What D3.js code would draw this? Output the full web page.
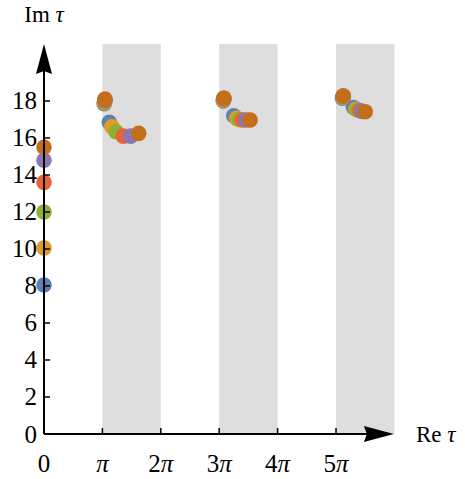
<!DOCTYPE html>
<html>
<head>
<meta charset="utf-8">
<script src="https://cdn.jsdelivr.net/npm/d3@7"></script>
<style>
  html, body { margin: 0; padding: 0; background: #fff; }
  svg { display: block; }
  text { font-family: "Liberation Serif", "Times New Roman", serif; fill: #000; }
</style>
</head>
<body>
<svg id="chart" width="465" height="479"></svg>
<script>
// ---- data (x in units of π, y = Im τ) ----
const seriesNames = ["s1", "s2", "s3", "s4", "s5", "s6"];
const seriesColors = ["#5E81B5", "#E19C24", "#8FB032", "#EB6235", "#8778B3", "#C56E1A"];
const s1 = [[0, 8.05], [1.03, 17.85], [1.118, 16.85], [3.07, 18.0], [3.25, 17.2], [5.11, 18.15], [5.30, 17.65]];
const s2 = [[0, 10.05], [1.035, 17.9], [1.164, 16.6], [3.07, 18.05], [3.30, 17.06], [5.115, 18.2], [5.34, 17.55]];
const s3 = [[0, 12.0], [1.04, 17.95], [1.233, 16.34], [3.075, 18.1], [3.345, 17.0], [5.12, 18.22], [5.37, 17.51]];
const s4 = [[0, 13.6], [1.04, 18.0], [1.358, 16.1], [3.08, 18.12], [3.40, 16.97], [5.12, 18.25], [5.41, 17.48]];
const s5 = [[0, 14.8], [1.045, 18.05], [1.485, 16.1], [3.08, 18.15], [3.46, 16.97], [5.125, 18.27], [5.44, 17.44]];
const s6 = [[0, 15.5], [1.045, 18.1], [1.622, 16.25], [3.08, 18.15], [3.53, 16.97], [5.125, 18.27], [5.50, 17.42]];
const seriesData = [s1, s2, s3, s4, s5, s6];
const bands = [[1, 2], [3, 4], [5, 6]];
const xTickValues = [0, 1, 2, 3, 4, 5];
const xTickLabels = ["0", "π", "2π", "3π", "4π", "5π"];
const yTickValues = [0, 2, 4, 6, 8, 10, 12, 14, 16, 18];
const xMax = 6, yMax = 21.08;

// ---- layout ----
const svg = d3.select("#chart");
const x = d3.scaleLinear().domain([0, xMax]).range([44, 394.4]);
const y = d3.scaleLinear().domain([0, yMax]).range([434, 44]);

// shaded bands
svg.append("g").selectAll("rect").data(bands).join("rect")
  .attr("x", d => x(d[0]))
  .attr("width", d => x(d[1]) - x(d[0]))
  .attr("y", y(yMax))
  .attr("height", y(0) - y(yMax))
  .attr("fill", "#dedede");

// points (drawn beneath the axes)
seriesData.forEach((data, i) => {
  svg.append("g").attr("class", seriesNames[i])
    .selectAll("circle").data(data).join("circle")
    .attr("cx", d => x(d[0]))
    .attr("cy", d => y(d[1]))
    .attr("r", 7.8)
    .attr("fill", seriesColors[i]);
});

// axes lines
const axis = svg.append("g").attr("stroke", "#000").attr("stroke-width", 2);
axis.append("line").attr("x1", x(0)).attr("x2", x(xMax) - 10).attr("y1", y(0)).attr("y2", y(0));
axis.append("line").attr("x1", x(0)).attr("x2", x(0)).attr("y1", y(0)).attr("y2", y(yMax) + 10);

// arrowheads
const L = 30, W = 8, notch = 3;
const xt = x(xMax) - 0.5, yt = y(0);
svg.append("path")
  .attr("d", `M${xt},${yt} L${xt - L},${yt - W} L${xt - L + notch},${yt} L${xt - L},${yt + W} Z`)
  .attr("fill", "#000");
const ax = x(0), ay = y(yMax);
svg.append("path")
  .attr("d", `M${ax},${ay} L${ax - W},${ay + L} L${ax},${ay + L - notch} L${ax + W},${ay + L} Z`)
  .attr("fill", "#000");

// ticks
svg.append("g").selectAll("line").data(xTickValues.slice(1)).join("line")
  .attr("x1", d => x(d)).attr("x2", d => x(d))
  .attr("y1", y(0)).attr("y2", y(0) - 6)
  .attr("stroke", "#000").attr("stroke-width", 1.5);
svg.append("g").selectAll("line").data(yTickValues.slice(1)).join("line")
  .attr("x1", x(0)).attr("x2", x(0) + 6)
  .attr("y1", d => y(d)).attr("y2", d => y(d))
  .attr("stroke", "#000").attr("stroke-width", 1.5);

// tick labels
svg.append("g").selectAll("text").data(xTickValues).join("text")
  .attr("x", d => x(d))
  .attr("y", 472)
  .attr("text-anchor", "middle")
  .attr("font-size", 25)
  .each(function(d, i) {
    const lab = xTickLabels[i];
    const t = d3.select(this);
    if (lab.includes("π")) {
      const num = lab.replace("π", "");
      if (num) t.append("tspan").text(num);
      t.append("tspan").attr("font-style", "italic").text("π");
    } else {
      t.text(lab);
    }
  });
svg.append("g").selectAll("text").data(yTickValues).join("text")
  .attr("x", 37)
  .attr("y", d => y(d))
  .attr("dy", "0.34em")
  .attr("text-anchor", "end")
  .attr("font-size", 25)
  .text(d => d);

// axis labels
const ylab = svg.append("text").attr("x", 44).attr("y", 22).attr("text-anchor", "middle").attr("font-size", 23);
ylab.append("tspan").text("Im ");
ylab.append("tspan").attr("font-style", "italic").text("τ");
const xlab = svg.append("text").attr("x", 416).attr("y", 442).attr("font-size", 23);
xlab.append("tspan").text("Re ");
xlab.append("tspan").attr("font-style", "italic").text("τ");
</script>
</body>
</html>
